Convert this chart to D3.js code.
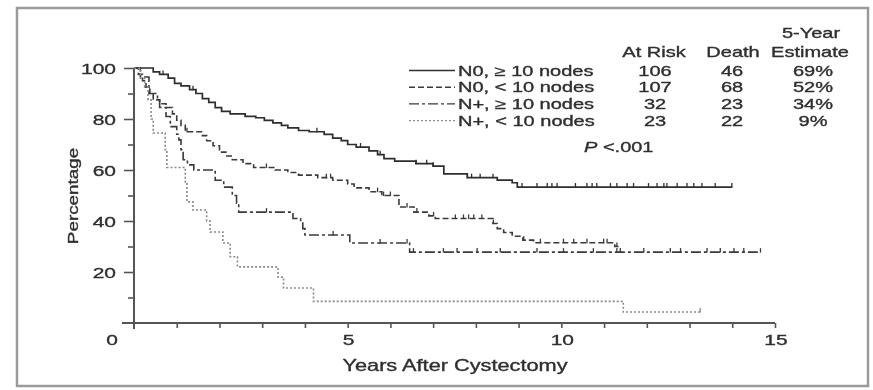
<!DOCTYPE html>
<html><head><meta charset="utf-8">
<script src="https://cdn.jsdelivr.net/npm/d3@7/dist/d3.min.js"></script>
<style>body{margin:0;background:#fff;} svg{display:block}</style>
</head><body>
<svg id="chart" width="873" height="390"></svg>
<script>
// ---------- data ----------
const groupLabels = ["N0, \u2265 10 nodes", "N0, < 10 nodes", "N+, \u2265 10 nodes", "N+, < 10 nodes"];
const atRisk = [106, 107, 32, 23];
const deaths = [46, 68, 23, 22];
const fiveYearEstimate = ["69%", "52%", "34%", "9%"];
const pValueText = "<.001";
const xTickValues = [5, 10, 15];
const yTickValues = [20, 40, 60, 80, 100];

// Curve 1: N0, >= 10 nodes (solid)
const times1 = [0, 0.45, 0.6, 0.8, 0.95, 1.1, 1.3, 1.45, 1.6, 1.75, 1.9, 2.05, 2.25, 2.6, 2.85, 3.05, 3.25, 3.45, 3.6, 3.85, 4.1, 4.45, 4.65, 4.85, 5.0, 5.2, 5.5, 5.7, 5.85, 6.1, 6.6, 7.0, 7.25, 7.8, 8.5, 8.85, 8.97];
const surv1  = [100, 98.5, 97.5, 96, 94, 93, 91.5, 90, 88, 86.5, 84.5, 83, 82, 81, 80.5, 79.5, 78.5, 77.5, 76.5, 75.5, 75, 74, 72.5, 71.5, 70, 69, 67.5, 66, 64.5, 63.5, 62.5, 61.5, 58.5, 57, 56, 55, 53.3];
const end1 = 14.0;
const censor1 = [0.68, 1.38, 4.28, 5.3, 5.76, 6.6, 6.85, 7.0, 7.8, 7.9, 8.1, 8.4, 9.08, 9.43, 9.67, 9.78, 9.9, 10.33, 10.6, 10.72, 10.83, 11.15, 11.3, 11.54, 11.69, 12.04, 12.24, 12.4, 12.47, 12.71, 12.94, 13.1, 13.29, 13.6, 13.99];

// Curve 2: N0, < 10 nodes (dashed)
const times2 = [0, 0.1, 0.2, 0.28, 0.37, 0.45, 0.6, 0.75, 0.9, 1.0, 1.1, 1.2, 1.6, 1.7, 1.85, 2.0, 2.15, 2.3, 2.55, 2.8, 3.3, 3.6, 3.85, 4.3, 4.65, 5.0, 5.15, 5.5, 5.8, 6.2, 6.55, 6.9, 7.05, 8.4, 8.5, 8.65, 8.85, 9.1, 9.35, 11.25];
const surv2  = [100, 97.5, 95, 92.5, 90, 87.5, 86, 84.5, 82, 79.5, 77.5, 75, 73.5, 71.5, 69.5, 67, 65.5, 64, 62.5, 61, 60, 59, 58, 57, 56, 54.5, 53, 51.5, 50, 45.5, 43.5, 42, 41, 39, 37, 35.5, 34, 32.5, 31.5, 30];
const end2 = 11.35;
const censor2 = [1.24, 3.1, 4.5, 4.6, 5.7, 5.84, 6.0, 6.39, 6.62, 7.01, 7.52, 7.71, 7.83, 7.95, 8.14, 8.41, 9.12, 9.51, 10.05, 10.29, 10.6, 10.99, 11.07, 11.3];

// Curve 3: N+, >= 10 nodes (dash-dot)
const times3 = [0, 0.15, 0.35, 0.55, 0.6, 0.75, 0.85, 1.0, 1.05, 1.1, 1.15, 1.25, 1.4, 1.9, 2.1, 2.3, 2.4, 2.45, 3.72, 3.9, 3.95, 4.0, 5.05, 6.45];
const surv3  = [100, 96.5, 90, 87.5, 84.5, 81, 77, 74, 71.8, 68, 64, 62, 60, 56, 53.3, 50, 47, 43.5, 41, 39.6, 37, 34.5, 31.4, 27.8];
const end3 = 14.66;
const censor3 = [3.1, 4.66, 5.76, 6.39, 6.54, 7.24, 7.56, 8.03, 8.57, 9.43, 10.05, 10.75, 11.3, 11.38, 11.93, 12.55, 12.79, 13.41, 13.72, 14.04, 14.27, 14.66];

// Curve 4: N+, < 10 nodes (dotted)
const times4 = [0, 0.15, 0.25, 0.33, 0.4, 0.45, 0.73, 0.77, 1.2, 1.24, 1.38, 1.7, 1.78, 2.08, 2.25, 2.42, 3.37, 3.5, 4.2, 11.45];
const surv4  = [100, 96, 92.5, 87.5, 80, 74.5, 68, 61, 55, 47.5, 44.3, 40, 35.7, 31.4, 26, 22, 18, 13.7, 8.5, 4.3];
const end4 = 13.25;
const censor4 = [13.25];

// ---------- drawing ----------
const svg = d3.select("#chart");
const W = 873, H = 390;
const defs = svg.append("defs");
defs.append("filter").attr("id", "soft").attr("x", "-5%").attr("y", "-5%").attr("width", "110%").attr("height", "110%")
  .append("feGaussianBlur").attr("stdDeviation", 0.5);

svg.append("rect").attr("width", W).attr("height", H).attr("fill", "#fff");
// frame
svg.append("rect").attr("x", 17).attr("y", 8).attr("width", 851).attr("height", 378)
  .attr("fill", "none").attr("stroke", "#9a9a9a").attr("stroke-width", 2.5);

const g = svg.append("g").attr("filter", "url(#soft)");

const x = d3.scaleLinear().domain([0, 15]).range([134, 775]);
const y = d3.scaleLinear().domain([0, 100]).range([323, 68]);

const INK = "#2f2f2f";
const SX = 1.4;
const FS = 14.3;
function label(parent, tx, ty, str, opts = {}) {
  const size = opts.size || FS;
  const rot = opts.rotate ? ` rotate(${opts.rotate})` : "";
  return parent.append("text")
    .attr("transform", `translate(${tx},${ty})${rot} scale(${opts.sx || SX},1)`)
    .attr("text-anchor", opts.anchor || "middle")
    .attr("font-family", "'Liberation Sans', Arial, Helvetica, sans-serif")
    .attr("font-size", size)
    .attr("font-style", opts.italic ? "italic" : "normal")
    .attr("fill", INK).attr("stroke", INK).attr("stroke-width", 0.35)
    .text(str);
}

// axes lines
const axisColor = "#555";
g.append("line").attr("x1", x(0)).attr("x2", x(0)).attr("y1", y(100)).attr("y2", y(0) + 6)
  .attr("stroke", axisColor).attr("stroke-width", 2);
g.append("line").attr("x1", x(0) - 12).attr("x2", x(15)).attr("y1", y(0)).attr("y2", y(0))
  .attr("stroke", axisColor).attr("stroke-width", 2);

// y ticks (major + minor)
const yMajor = d3.axisLeft(y).tickValues(yTickValues).tickSize(10).tickFormat("");
const yMinor = d3.axisLeft(y).tickValues(d3.range(10, 100, 20)).tickSize(6).tickFormat("");
[yMajor, yMinor].forEach(ax => {
  const a = g.append("g").attr("transform", `translate(${x(0)},0)`).call(ax);
  a.select(".domain").remove();
  a.selectAll("line").attr("stroke", axisColor).attr("stroke-width", 1.6);
});
// x ticks (every year)
const xAx = d3.axisBottom(x).tickValues(d3.range(1, 16)).tickSize(5).tickFormat("");
const xa = g.append("g").attr("transform", `translate(0,${y(0)})`).call(xAx);
xa.select(".domain").remove();
xa.selectAll("line").attr("stroke", axisColor).attr("stroke-width", 1.6);

// tick labels
yTickValues.forEach(v => label(g, x(0) - 18, y(v) + 5.5, String(v), { anchor: "end", size: 15 }));
label(g, x(0) - 22, y(0) + 22, "0", { size: 15 });
xTickValues.forEach(v => label(g, x(v) + 1, y(0) + 22, String(v), { size: 15 }));

// axis titles
label(g, 455, 371, "Years After Cystectomy", { size: 16, sx: 1.36 });
label(g, 78, 196, "Percentage", { rotate: -90, size: 14.5, sx: 1.3 });

// curves
const series = [
  { t: times1, s: surv1, end: end1, c: censor1, color: "#2e2e2e", dash: null, w: 1.7 },
  { t: times2, s: surv2, end: end2, c: censor2, color: "#3a3a3a", dash: "6,3", w: 1.6 },
  { t: times3, s: surv3, end: end3, c: censor3, color: "#3a3a3a", dash: "10,3,3,3", w: 1.6 },
  { t: times4, s: surv4, end: end4, c: censor4, color: "#8a8a8a", dash: "2,2", w: 1.6 }
];
const line = d3.line().x(d => x(d[0])).y(d => y(d[1])).curve(d3.curveStepAfter);
series.forEach(se => {
  const pts = se.t.map((t, i) => [t, se.s[i]]);
  pts.push([se.end, se.s[se.s.length - 1]]);
  g.append("path").datum(pts).attr("d", line).attr("fill", "none")
    .attr("stroke", se.color).attr("stroke-width", se.w)
    .attr("stroke-dasharray", se.dash);
  const S = t => se.s[Math.max(0, d3.bisectRight(se.t, t) - 1)];
  g.selectAll(null).data(se.c).enter().append("line")
    .attr("x1", d => x(d)).attr("x2", d => x(d))
    .attr("y1", d => y(S(d)) - 4).attr("y2", d => y(S(d)) + 0.5)
    .attr("stroke", se.color).attr("stroke-width", 1.3);
});

// legend
label(g, 811, 38, "5-Year");
label(g, 654, 57, "At Risk");
label(g, 733, 57, "Death");
label(g, 810, 57, "Estimate");
const rowY = [75.5, 92.2, 108.9, 125.6];
groupLabels.forEach((lab, i) => {
  const se = series[i];
  g.append("line").attr("x1", 409).attr("x2", 455).attr("y1", rowY[i] - 5).attr("y2", rowY[i] - 5)
    .attr("stroke", se.color).attr("stroke-width", 1.4).attr("stroke-dasharray", se.dash);
  label(g, 458, rowY[i], lab, { anchor: "start" });
  label(g, 655, rowY[i], String(atRisk[i]));
  label(g, 732, rowY[i], String(deaths[i]));
  label(g, 813, rowY[i], fiveYearEstimate[i]);
});
const pt = g.append("text")
  .attr("transform", `translate(584,152) scale(${SX},1)`)
  .attr("font-family", "'Liberation Sans', Arial, Helvetica, sans-serif")
  .attr("font-size", FS).attr("fill", INK).attr("stroke", INK).attr("stroke-width", 0.35);
pt.append("tspan").attr("font-style", "italic").text("P");
pt.append("tspan").text(" " + pValueText);
</script>
</body></html>
